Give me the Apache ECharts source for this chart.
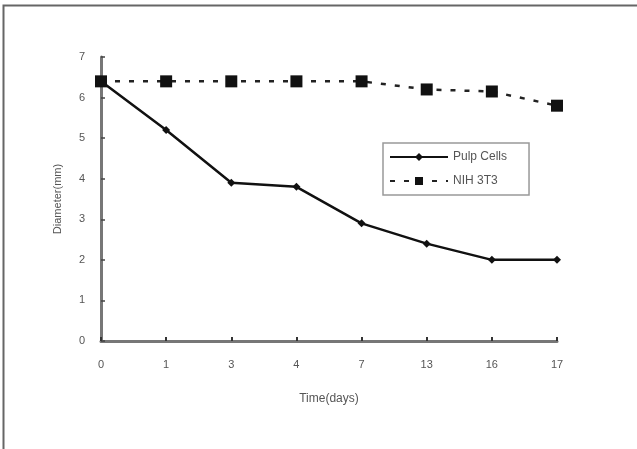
<!DOCTYPE html>
<html lang="en">
<head>
  <meta charset="UTF-8">
  <title>Diameter over time</title>
  <script src="https://cdn.jsdelivr.net/npm/echarts@6/dist/echarts.min.js"></script>
  <style>
    html, body { margin: 0; padding: 0; background: #fff; }
    #chart { width: 637px; height: 449px; }
  </style>
</head>
<body>
  <div id="chart"></div>
  <script>
    const days = ['0', '1', '3', '4', '7', '13', '16', '17'];
    const pulpCells = [6.4, 5.2, 3.9, 3.8, 2.9, 2.4, 2.0, 2.0];
    const nih3t3 = [6.4, 6.4, 6.4, 6.4, 6.4, 6.2, 6.15, 5.8];

    const txt = '#555';
    const axisCol = '#777';

    const chart = echarts.init(document.getElementById('chart'));
    chart.setOption({
      backgroundColor: '#fff',
      animation: false,
      textStyle: { fontFamily: 'Liberation Sans, Arial, sans-serif' },
      // outer frame of the figure
      graphic: [{
        type: 'rect',
        left: 1, top: 3,
        shape: { width: 635, height: 460 },
        style: { fill: 'none', stroke: '#666', lineWidth: 2 },
        silent: true
      }],
      grid: { left: 101, right: 80, top: 57, bottom: 108 },
      legend: {
        left: 383, top: 143,
        orient: 'vertical',
        itemGap: 12,
        itemWidth: 58, itemHeight: 10,
        padding: [8, 22, 8, 6],
        borderColor: '#999', borderWidth: 1.5,
        textStyle: { color: txt, fontSize: 12 },
        data: ['Pulp Cells', 'NIH 3T3']
      },
      xAxis: {
        type: 'category',
        data: days,
        boundaryGap: false,
        name: 'Time(days)',
        nameLocation: 'middle',
        nameGap: 52,
        nameTextStyle: { color: txt, fontSize: 12 },
        axisLine: { lineStyle: { color: axisCol, width: 3 } },
        axisTick: { inside: true, length: 4, lineStyle: { color: '#333', width: 2 } },
        axisLabel: { color: txt, fontSize: 11, margin: 18 },
        splitLine: { show: false }
      },
      yAxis: {
        type: 'value',
        min: 0, max: 7, interval: 1,
        name: 'Diameter(mm)',
        nameLocation: 'middle',
        nameGap: 38,
        nameTextStyle: { color: txt, fontSize: 11 },
        axisLine: { show: true, lineStyle: { color: axisCol, width: 3 } },
        axisTick: { show: true, inside: true, length: 4, lineStyle: { color: '#444', width: 1.5 } },
        axisLabel: { color: txt, fontSize: 11, margin: 16 },
        splitLine: { show: false }
      },
      series: [{
        name: 'Pulp Cells',
        type: 'line',
        data: pulpCells,
        symbol: 'diamond',
        symbolSize: 8,
        itemStyle: { color: '#111' },
        lineStyle: { color: '#111', width: 2.5 },
        z: 3
      }, {
        name: 'NIH 3T3',
        type: 'line',
        data: nih3t3,
        symbol: 'rect',
        symbolSize: 12,
        itemStyle: { color: '#111' },
        lineStyle: { color: '#222', width: 2.5, type: [5, 9] },
        z: 4
      }]
    });
  </script>
</body>
</html>
